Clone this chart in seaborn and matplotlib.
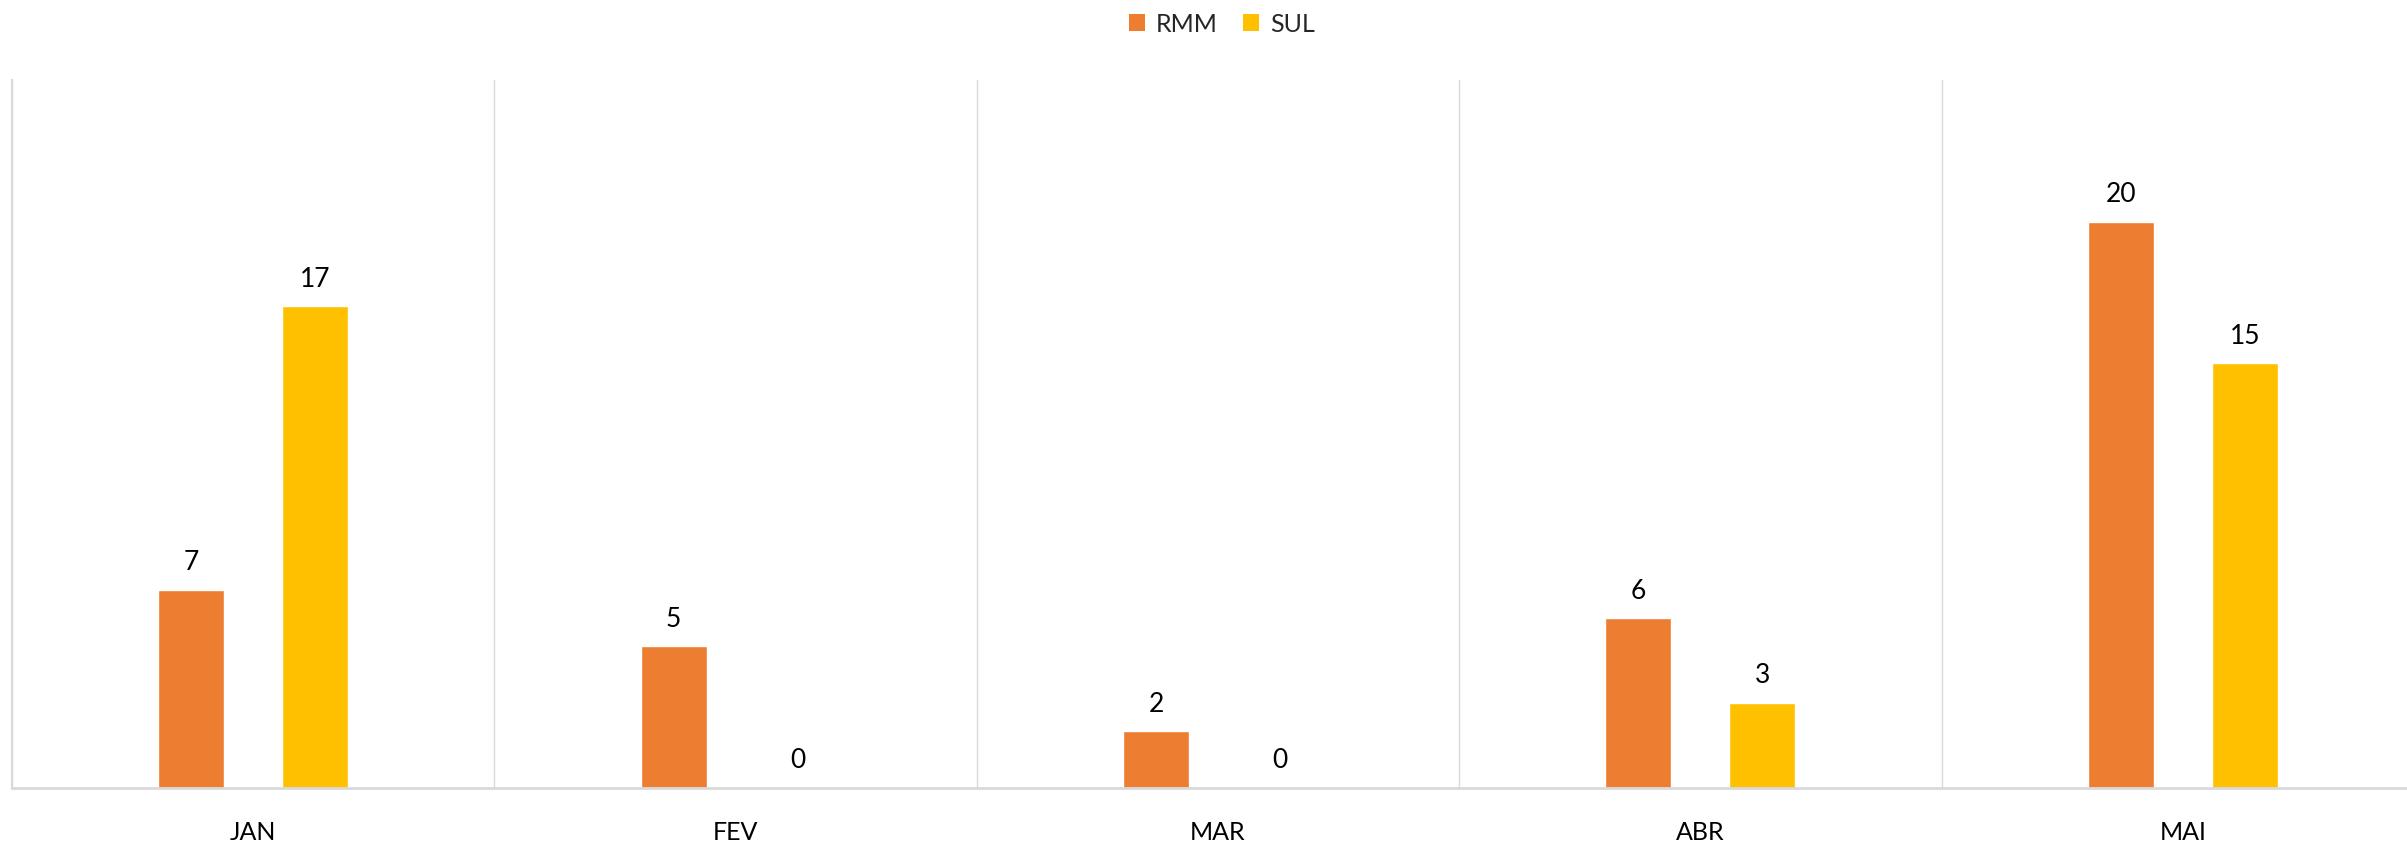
import matplotlib
matplotlib.use("Agg")
import matplotlib.pyplot as plt
import seaborn as sns
import pandas as pd
from matplotlib.patches import Patch

months = ["JAN", "FEV", "MAR", "ABR", "MAI"]
series_names = ["RMM", "SUL"]
rmm_values = [7, 5, 2, 6, 20]
sul_values = [17, 0, 0, 3, 15]
colors = ["#ED7D31", "#FFC000"]

df = pd.DataFrame({
    "month": months * 2,
    "series": [series_names[0]] * len(months) + [series_names[1]] * len(months),
    "value": rmm_values + sul_values,
})

sns.set_theme(style="white")
plt.rcParams["font.family"] = ["Lato", "DejaVu Sans"]

W, H = 2407, 845
fig = plt.figure(figsize=(W / 100, H / 100), dpi=100)
left_px, base_px, top_px = 12, 788.7, 81
ax = fig.add_axes([left_px / W, (H - base_px) / H, 2412 / W, (base_px - top_px) / H])

sns.barplot(data=df, x="month", y="value", hue="series", order=months,
            hue_order=series_names, palette=colors, width=0.514, gap=0.468,
            errorbar=None, saturation=1, ax=ax)

ax.set_xlim(-0.5, len(months) - 0.5)
ax.set_ylim(0, 25)
ax.set_xlabel("")
ax.set_ylabel("")
ax.set_yticks([])
if ax.get_legend() is not None:
    ax.get_legend().remove()

# vertical gridlines at category boundaries
ax.set_xticks([i + 0.5 for i in range(-1, len(months))], minor=True)
ax.grid(which="minor", axis="x", color="#D9D9D9", linewidth=1.0)
ax.grid(which="major", visible=False)
ax.tick_params(axis="x", which="both", length=0)
ax.tick_params(axis="x", which="major", pad=23, labelsize=18, labelcolor="#000000")

for side in ["top", "right"]:
    ax.spines[side].set_visible(False)
ax.spines["left"].set_color("#D9D9D9")
ax.spines["left"].set_linewidth(1.5)
ax.spines["bottom"].set_color("#D9D9D9")
ax.spines["bottom"].set_linewidth(2.0)

for cont in ax.containers:
    ax.bar_label(cont, fmt="%g", padding=11, fontsize=19, color="#000000")

handles = [Patch(facecolor=c, edgecolor="none") for c in colors]
fig.legend(handles, series_names, loc="center", bbox_to_anchor=(1222 / W, 1 - 25 / H),
           ncol=2, frameon=False, fontsize=18, handlelength=0.64, handleheight=0.64,
           handletextpad=0.44, columnspacing=1.0)

fig.savefig("out.png", dpi=100, facecolor="white")
